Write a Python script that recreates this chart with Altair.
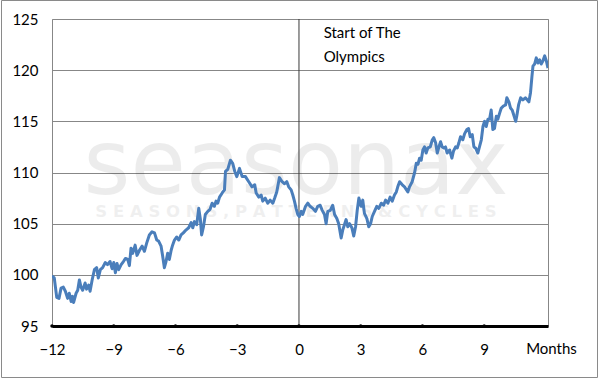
import altair as alt
import pandas as pd

# ---- data (months relative to the start of the Olympics, index value) ----
months = [-12.0, -11.89, -11.77, -11.66, -11.56, -11.45, -11.35, -11.24, -11.16, -11.07,
          -11.0, -10.95, -10.83, -10.75, -10.67, -10.59, -10.51, -10.39, -10.32, -10.22,
          -10.15, -10.05, -9.94, -9.83, -9.75, -9.65, -9.54, -9.41, -9.3, -9.18,
          -9.08, -9.0, -8.92, -8.84, -8.76, -8.64, -8.53, -8.43, -8.32, -8.24,
          -8.16, -8.08, -7.96, -7.87, -7.75, -7.62, -7.51, -7.4, -7.27, -7.14,
          -7.02, -6.91, -6.82, -6.7, -6.62, -6.54, -6.46, -6.38, -6.3, -6.21,
          -6.14, -6.05, -5.94, -5.84, -5.73, -5.62, -5.48, -5.36, -5.24, -5.16,
          -5.08, -4.97, -4.87, -4.79, -4.73, -4.64, -4.55, -4.43, -4.32, -4.22,
          -4.11, -4.03, -3.95, -3.86, -3.73, -3.62, -3.57, -3.46, -3.33, -3.22,
          -3.12, -3.02, -2.89, -2.76, -2.6, -2.44, -2.28, -2.15, -2.08, -1.95,
          -1.84, -1.76, -1.64, -1.52, -1.4, -1.27, -1.18, -1.08, -0.95, -0.82,
          -0.7, -0.59, -0.5, -0.38, -0.3, -0.22, -0.14, -0.06, 0.02, 0.11,
          0.18, 0.32, 0.43, 0.54, 0.67, 0.8, 0.91, 1.03, 1.13, 1.24,
          1.32, 1.4, 1.52, 1.64, 1.73, 1.84, 1.93, 2.05, 2.13, 2.21,
          2.29, 2.37, 2.46, 2.57, 2.66, 2.75, 2.83, 2.91, 3.02, 3.1,
          3.18, 3.3, 3.39, 3.48, 3.56, 3.67, 3.78, 3.88, 4.0, 4.11,
          4.21, 4.32, 4.43, 4.53, 4.64, 4.73, 4.8, 4.89, 5.02, 5.13,
          5.29, 5.37, 5.5, 5.62, 5.7, 5.78, 5.86, 5.94, 6.02, 6.1,
          6.18, 6.26, 6.38, 6.48, 6.55, 6.64, 6.72, 6.8, 6.88, 6.96,
          7.04, 7.12, 7.2, 7.32, 7.43, 7.51, 7.61, 7.69, 7.77, 7.85,
          7.96, 8.05, 8.16, 8.24, 8.32, 8.42, 8.5, 8.58, 8.69, 8.77,
          8.86, 8.94, 9.02, 9.1, 9.18, 9.26, 9.34, 9.42, 9.5, 9.59,
          9.66, 9.75, 9.83, 9.94, 10.04, 10.1, 10.2, 10.28, 10.36, 10.44,
          10.53, 10.59, 10.67, 10.77, 10.88, 11.0, 11.09, 11.17, 11.25, 11.32,
          11.37, 11.45, 11.53, 11.61, 11.69, 11.77, 11.85, 11.94, 12.02, 12.1]
values = [99.9, 99.7, 97.8, 97.7, 98.7, 98.8, 98.4, 97.7, 98.2, 97.4,
          97.9, 97.3, 98.2, 98.5, 99.5, 98.8, 98.5, 99.2, 98.6, 99.0,
          98.4, 99.5, 100.5, 100.7, 99.7, 100.5, 100.7, 101.2, 101.0, 101.3,
          100.6, 101.2, 100.2, 101.1, 100.5, 101.0, 101.3, 101.6, 101.5, 100.9,
          102.6, 102.1, 102.9, 101.9, 102.4, 102.8, 102.3, 103.1, 103.9, 104.2,
          104.1, 103.4, 103.3, 102.8, 101.8, 100.7, 101.3, 102.1, 101.5, 102.4,
          102.9, 103.4, 103.7, 103.4, 103.9, 104.1, 104.4, 104.6, 105.1, 104.6,
          105.2, 104.9, 106.5, 105.4, 103.9, 104.7, 105.9, 106.2, 106.4, 107.0,
          106.7, 107.2, 107.0, 107.6, 108.0, 108.3, 110.1, 110.3, 111.2, 110.9,
          110.1, 109.6, 110.4, 109.6, 109.6, 109.1, 108.6, 108.8, 108.0, 107.6,
          107.8, 107.2, 107.5, 107.0, 107.3, 107.0, 107.5, 108.1, 109.5, 109.1,
          108.9, 109.1, 108.6, 108.3, 107.8, 107.2, 106.5, 105.9, 105.7, 106.2,
          105.9, 106.7, 107.0, 106.7, 106.5, 106.2, 106.7, 106.8, 106.3, 105.9,
          105.0, 106.2, 106.3, 106.8, 105.9, 105.5, 105.0, 103.6, 104.4, 104.9,
          105.4, 104.7, 105.0, 104.6, 103.8, 104.7, 106.3, 107.5, 106.7, 107.3,
          106.0, 105.5, 104.7, 105.0, 105.7, 106.2, 106.7, 106.5, 107.0, 106.8,
          107.3, 107.0, 107.6, 107.2, 107.8, 108.1, 108.6, 109.1, 108.8, 108.6,
          108.1, 108.6, 109.1, 110.0, 110.9, 110.8, 111.4, 111.2, 112.2, 112.5,
          111.9, 112.4, 112.5, 113.2, 113.4, 112.9, 111.9, 112.5, 113.0, 112.5,
          112.4, 112.5, 111.9, 112.2, 111.4, 112.1, 112.5, 112.4, 112.9, 113.5,
          113.2, 113.8, 114.2, 114.3, 113.5, 113.7, 112.5, 112.4, 111.9, 112.5,
          113.2, 114.5, 115.0, 114.5, 115.2, 115.2, 116.1, 114.2, 114.3, 115.5,
          115.2, 115.8, 116.3, 116.5, 116.6, 117.3, 116.9, 116.3, 116.1, 115.6,
          115.0, 115.6, 116.6, 117.3, 117.1, 117.3, 117.1, 116.9, 117.8, 119.4,
          120.4, 120.6, 121.2, 120.7, 121.0, 120.6, 120.9, 121.4, 120.9, 120.2]

x_tick_values = [-12, -9, -6, -3, 0, 3, 6, 9]
x_dot_values = [-12, -9, -6, -3, 0, 3, 6, 9]
y_tick_values = [95, 100, 105, 110, 115, 120, 125]
x_unit_label = ["Months"]
x_unit_pos = [12.27]
note_lines = ["Start of The", "Olympics"]
note_x = [1.2, 1.2]
note_y = [123.6, 121.3]
watermark_big = "seasonax"
watermark_small = "S E A S O N S ,   P A T T E R N S   &   C Y C L E S"

FONT = "Lato"
W, H = 496, 307

df = pd.DataFrame({"m": months, "v": values})
dots = pd.DataFrame({"m": x_dot_values, "v": [95] * len(x_dot_values)})
notes = pd.DataFrame({"m": note_x, "v": note_y, "t": note_lines})
unit = pd.DataFrame({"m": x_unit_pos, "v": [95], "t": x_unit_label})

xs = alt.Scale(domain=[-12, 12.1], nice=False, zero=False)
ys = alt.Scale(domain=[95, 125], nice=False, zero=False)

x_axis = alt.Axis(values=x_tick_values,
                  domainColor="black", domainWidth=3, ticks=False, grid=False,
                  labelPadding=16, labelFontSize=15, labelFont=FONT,
                  labelColor="black", title=None, labelFlush=False,
                  labelOverlap=False)
y_axis = alt.Axis(values=y_tick_values, grid=True, gridColor="#878787",
                  gridWidth=1, domain=False, ticks=False, labelPadding=14,
                  labelFontSize=15, labelFont=FONT, labelColor="black",
                  title=None)

border = alt.Chart(pd.DataFrame({"a": [0]})).mark_rect(
    fillOpacity=0, stroke="#8a8a8a", strokeWidth=1
).encode(x=alt.value(-50.5), x2=alt.value(545.5),
         y=alt.value(-18.5), y2=alt.value(358.5))

wm1 = alt.Chart(pd.DataFrame({"a": [0]})).mark_text(
    text=watermark_big, font="DejaVu Sans", fontSize=90, color="#000000",
    opacity=0.07, align="center", baseline="alphabetic"
).encode(x=alt.value(244), y=alt.value(175))

wm2 = alt.Chart(pd.DataFrame({"a": [0]})).mark_text(
    text=watermark_small, font="DejaVu Sans", fontSize=16.5, fontWeight="bold",
    color="#000000", opacity=0.06, align="center", baseline="middle"
).encode(x=alt.value(244), y=alt.value(193))

vline = alt.Chart(pd.DataFrame({"a": [0]})).mark_rule(
    color="#3a3a3a", strokeWidth=1
).encode(x=alt.datum(0, scale=xs), y=alt.datum(95, scale=ys), y2=alt.datum(125))

line = alt.Chart(df).mark_line(
    color="#4a7ebb", strokeWidth=3, strokeJoin="round", clip=True
).encode(x=alt.X("m:Q", scale=xs, axis=x_axis),
         y=alt.Y("v:Q", scale=ys, axis=y_axis))

tickdots = alt.Chart(dots).mark_circle(color="black", size=12, opacity=1).encode(
    x=alt.X("m:Q", scale=xs), y=alt.Y("v:Q", scale=ys))

note = alt.Chart(notes).mark_text(
    align="left", baseline="middle", font=FONT, fontSize=15, color="black"
).encode(x=alt.X("m:Q", scale=xs), y=alt.Y("v:Q", scale=ys), text="t:N")

unit_text = alt.Chart(unit).mark_text(
    align="center", baseline="middle", font=FONT, fontSize=15, color="black",
    dy=23
).encode(x=alt.X("m:Q", scale=xs), y=alt.Y("v:Q", scale=ys), text="t:N")

chart = alt.layer(border, wm1, wm2, vline, line, tickdots, note, unit_text).properties(
    width=W, height=H,
    padding={"left": 52, "top": 19, "right": 53, "bottom": 52},
    autosize=alt.AutoSizeParams(type="none"),
    background="white",
).configure_view(stroke="#878787", strokeWidth=1)

chart.save("out.html", embed_options={"renderer": "svg", "actions": False})
